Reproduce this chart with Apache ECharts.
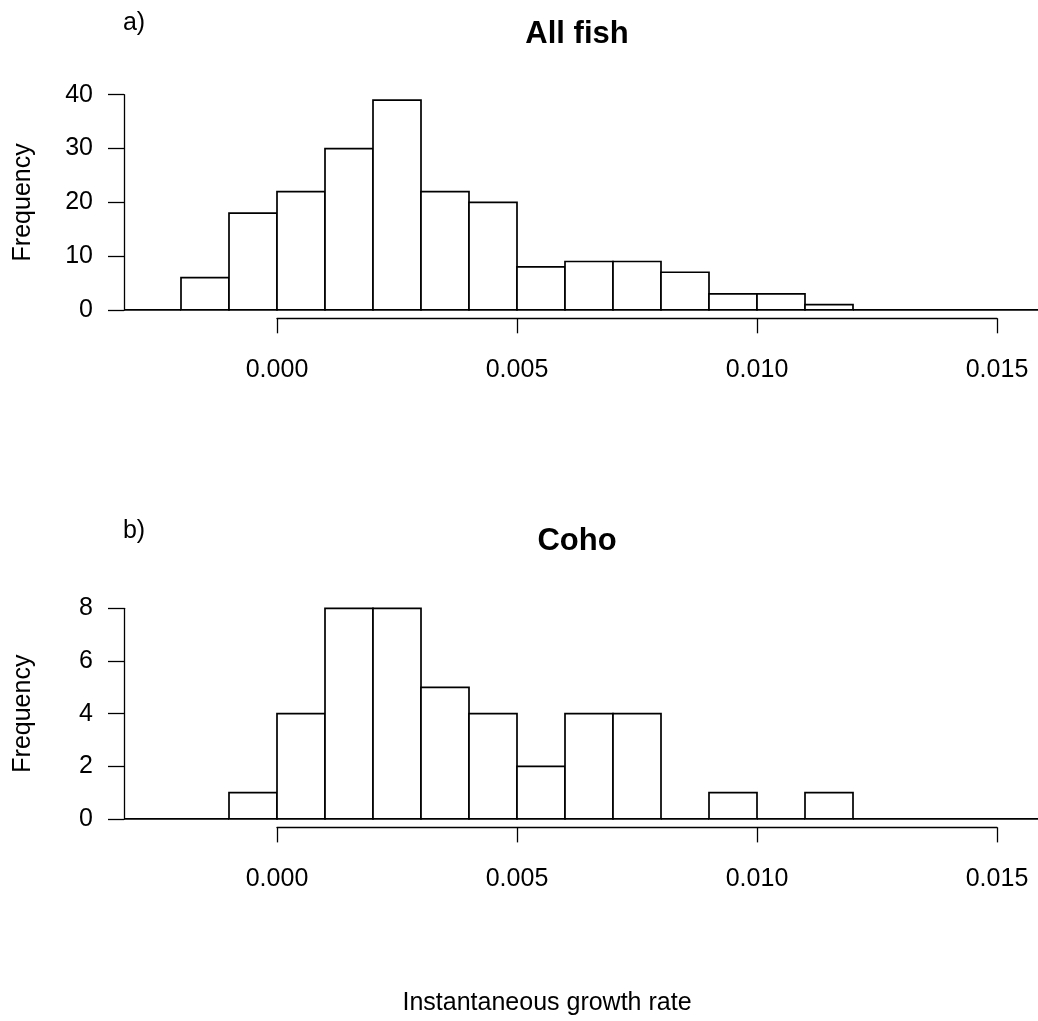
<!DOCTYPE html>
<html>
<head>
<meta charset="utf-8">
<script src="https://cdn.jsdelivr.net/npm/echarts@6/dist/echarts.min.js"></script>
<style>
html,body{margin:0;padding:0;background:#fff;}
#chart{width:1038px;height:1021px;}
</style>
</head>
<body>
<div id="chart"></div>
<script>
// Bin edges (instantaneous growth rate)
var breaks = [-0.004, -0.003, -0.002, -0.001, 0.000, 0.001, 0.002, 0.003, 0.004, 0.005, 0.006,
              0.007, 0.008, 0.009, 0.010, 0.011, 0.012, 0.013, 0.014, 0.015, 0.016];
// Frequencies per bin
var allFishCounts = [0, 0, 6, 18, 22, 30, 39, 22, 20, 8, 9, 9, 7, 3, 3, 1, 0, 0, 0, 0];
var cohoCounts    = [0, 0, 0, 1, 4, 8, 8, 5, 4, 2, 4, 4, 0, 1, 0, 1, 0, 0, 0, 0];
// Tick labels
var xTicks = [0.000, 0.005, 0.010, 0.015];
var yTicksA = [0, 10, 20, 30, 40];
var yTicksB = [0, 2, 4, 6, 8];
var titles = ['All fish', 'Coho'];
var panelLabels = ['a)', 'b)'];
var xLabel = 'Instantaneous growth rate';
var yLabel = 'Frequency';

function toBins(counts) {
  var d = [];
  for (var i = 0; i < counts.length; i++) d.push([breaks[i], breaks[i + 1], counts[i]]);
  return d;
}

var FONT = 'Liberation Sans, Arial, Helvetica, sans-serif';

function renderItem(params, api) {
  var x0 = api.value(0), x1 = api.value(1), c = api.value(2);
  var p0 = api.coord([x0, c]);
  var p1 = api.coord([x1, 0]);
  var cs = params.coordSys;
  var left = Math.max(p0[0], cs.x);
  var right = Math.min(p1[0], cs.x + cs.width);
  if (right < left) return null;
  return {
    type: 'rect',
    shape: { x: left, y: p0[1], width: right - left, height: p1[1] - p0[1] },
    style: { fill: '#fff', stroke: '#000', lineWidth: 1.7 }
  };
}

var chart = echarts.init(document.getElementById('chart'), null, { renderer: 'canvas' });

// x-data range of the plot region (px: 124 .. 1038, 0 at 277, 48 px per 0.001)
var XMIN = -0.0031875, XMAX = 0.0158542;

var axisText = { color: '#000', fontSize: 25, fontFamily: FONT };
var axisLineStyle = { color: '#000', width: 1.3 };

function xAxisShown(gi) {
  return { gridIndex: gi, type: 'value', min: xTicks[0], max: xTicks[xTicks.length - 1], interval: 0.005,
    position: 'bottom', splitLine: { show: false },
    axisLine: { show: true, lineStyle: axisLineStyle },
    axisTick: { show: true, length: 15, lineStyle: axisLineStyle },
    axisLabel: Object.assign({ margin: 39, formatter: function (v) { return v.toFixed(3); } }, axisText) };
}
function yAxisShown(gi, ticks, interval) {
  return { gridIndex: gi, type: 'value', min: ticks[0], max: ticks[ticks.length - 1], interval: interval,
    position: 'left', splitLine: { show: false },
    axisLine: { show: true, lineStyle: axisLineStyle },
    axisTick: { show: true, length: 16, lineStyle: axisLineStyle },
    axisLabel: Object.assign({ margin: 31, padding: [9, 0, 0, 0] }, axisText),
    name: yLabel, nameLocation: 'middle', nameGap: 88,
    nameTextStyle: { color: '#000', fontSize: 25, fontFamily: FONT } };
}

var option = {
  animation: false,
  backgroundColor: '#fff',
  grid: [
    // panel a
    { left: 124, width: 914, top: 91.8, height: 226.5 },
    { left: 277, width: 720, top: 300, height: 18.3 },
    { left: 124, width: 900, top: 94.7, height: 215.3 },
    // panel b
    { left: 124, width: 914, top: 599.9, height: 227.5 },
    { left: 277, width: 720, top: 800, height: 27.4 },
    { left: 124, width: 900, top: 608.3, height: 210.7 }
  ],
  xAxis: [
    { gridIndex: 0, type: 'value', min: XMIN, max: XMAX, show: false },
    xAxisShown(1),
    { gridIndex: 2, type: 'value', min: 0, max: 1, show: false },
    { gridIndex: 3, type: 'value', min: XMIN, max: XMAX, show: false },
    xAxisShown(4),
    { gridIndex: 5, type: 'value', min: 0, max: 1, show: false }
  ],
  yAxis: [
    { gridIndex: 0, type: 'value', min: -1.56, max: 40.56, show: false },
    { gridIndex: 1, type: 'value', min: 0, max: 1, show: false },
    yAxisShown(2, yTicksA, 10),
    { gridIndex: 3, type: 'value', min: -0.32, max: 8.32, show: false },
    { gridIndex: 4, type: 'value', min: 0, max: 1, show: false },
    yAxisShown(5, yTicksB, 2)
  ],
  series: [
    { type: 'custom', name: titles[0], xAxisIndex: 0, yAxisIndex: 0, renderItem: renderItem,
      encode: { x: [0, 1], y: 2 }, data: toBins(allFishCounts) },
    { type: 'custom', name: titles[1], xAxisIndex: 3, yAxisIndex: 3, renderItem: renderItem,
      encode: { x: [0, 1], y: 2 }, data: toBins(cohoCounts) }
  ],
  graphic: [
    { type: 'text', x: 577, y: 34, style: { text: titles[0], font: 'bold 31px ' + FONT, fill: '#000', align: 'center', verticalAlign: 'middle', textAlign: 'center', textVerticalAlign: 'middle' } },
    { type: 'text', x: 577, y: 541, style: { text: titles[1], font: 'bold 31px ' + FONT, fill: '#000', align: 'center', verticalAlign: 'middle', textAlign: 'center', textVerticalAlign: 'middle' } },
    { type: 'text', x: 134, y: 23, style: { text: panelLabels[0], font: '25px ' + FONT, fill: '#000', align: 'center', verticalAlign: 'middle', textAlign: 'center', textVerticalAlign: 'middle' } },
    { type: 'text', x: 134, y: 531, style: { text: panelLabels[1], font: '25px ' + FONT, fill: '#000', align: 'center', verticalAlign: 'middle', textAlign: 'center', textVerticalAlign: 'middle' } },
    { type: 'text', x: 547, y: 1003, style: { text: xLabel, font: '25px ' + FONT, fill: '#000', align: 'center', verticalAlign: 'middle', textAlign: 'center', textVerticalAlign: 'middle' } }
  ]
};
chart.setOption(option);
</script>
</body>
</html>
